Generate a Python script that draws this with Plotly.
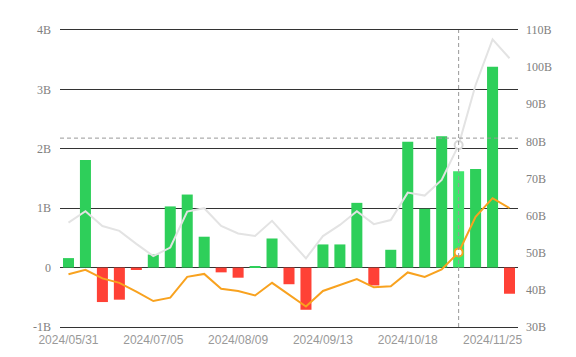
import plotly.graph_objects as go

dates = ["2024/05/31", "2024/06/07", "2024/06/14", "2024/06/21", "2024/06/28",
         "2024/07/05", "2024/07/12", "2024/07/19", "2024/07/26", "2024/08/02",
         "2024/08/09", "2024/08/16", "2024/08/23", "2024/08/30", "2024/09/06",
         "2024/09/13", "2024/09/20", "2024/09/27", "2024/10/04", "2024/10/11",
         "2024/10/18", "2024/10/25", "2024/11/01", "2024/11/08", "2024/11/15",
         "2024/11/25", "2024/11/29"]

net_flow_b = [0.16, 1.81, -0.58, -0.54, -0.04, 0.22, 1.03, 1.23, 0.52, -0.08,
              -0.17, 0.02, 0.49, -0.28, -0.71, 0.39, 0.39, 1.09, -0.30, 0.30,
              2.12, 0.99, 2.21, 1.62, 1.66, 3.38, -0.44]

gray_series_b = [58.1, 61.2, 57.2, 55.9, 52.4, 49.1, 51.4, 61.1, 62.0, 57.2,
                 55.2, 54.5, 58.6, 53.6, 48.5, 54.5, 57.5, 61.2, 57.7, 58.8,
                 66.2, 65.4, 69.6, 79.0, 95.2, 107.5, 102.4]

orange_series_b = [44.2, 45.4, 43.1, 41.9, 39.5, 37.0, 37.9, 43.5, 44.3, 40.3,
                   39.7, 38.5, 41.9, 38.6, 35.5, 39.7, 41.3, 42.9, 40.7, 41.0,
                   44.7, 43.5, 45.5, 50.1, 59.7, 64.7, 62.0]

left_ticks = [-1, 0, 1, 2, 3, 4]
left_ticktext = ["-1B", "0", "1B", "2B", "3B", "4B"]
right_ticks = [30, 40, 50, 60, 70, 80, 90, 100, 110]
right_ticktext = [f"{v}B" for v in right_ticks]
x_tick_idx = [0, 5, 10, 15, 20, 25]

hover_idx = 23
crosshair_y_b = 2.18

GREEN = "#2ecf5a"
GREEN_HI = "#3ee56c"
RED = "#ff4136"
bar_colors = []
for i, v in enumerate(net_flow_b):
    if v >= 0:
        bar_colors.append(GREEN_HI if i == hover_idx else GREEN)
    else:
        bar_colors.append(RED)

SERIF = "Liberation Serif, DejaVu Serif, serif"

fig = go.Figure()
fig.add_trace(go.Bar(x=dates, y=net_flow_b, marker=dict(color=bar_colors, line=dict(width=0)),
                     yaxis="y", showlegend=False))
fig.add_trace(go.Scatter(x=dates, y=gray_series_b, mode="lines", yaxis="y2",
                         line=dict(color="#e3e3e3", width=2), showlegend=False))
fig.add_trace(go.Scatter(x=dates, y=orange_series_b, mode="lines", yaxis="y2",
                         line=dict(color="#f8a21f", width=2), showlegend=False))
fig.add_trace(go.Scatter(x=[dates[hover_idx]], y=[gray_series_b[hover_idx]], mode="markers", yaxis="y2",
                         marker=dict(size=8, color="white", line=dict(color="#d8d8d8", width=2)),
                         showlegend=False))
fig.add_trace(go.Scatter(x=[dates[hover_idx]], y=[orange_series_b[hover_idx]], mode="markers", yaxis="y2",
                         marker=dict(size=8, color="white", line=dict(color="#f8a21f", width=2)),
                         showlegend=False))

fig.add_shape(type="line", xref="x", yref="paper", x0=dates[hover_idx], x1=dates[hover_idx],
              y0=0, y1=1, line=dict(color="#999999", width=1, dash="4px,3px"))
fig.add_shape(type="line", xref="paper", yref="y", x0=0, x1=1, y0=crosshair_y_b, y1=crosshair_y_b,
              line=dict(color="#999999", width=1, dash="4px,3px"))

fig.update_layout(
    width=576, height=357,
    margin=dict(l=52, r=66, t=22, b=38, autoexpand=False),
    paper_bgcolor="white", plot_bgcolor="white",
    bargap=0.35,
    xaxis=dict(type="category", tickvals=[dates[i] for i in x_tick_idx],
               ticktext=[dates[i] for i in x_tick_idx], showgrid=False, zeroline=False,
               showline=True, mirror=True, linecolor="#333333", linewidth=1,
               ticks="", range=[-0.5, len(dates) - 0.5], automargin=False,
               ticklabelstandoff=2,
               tickfont=dict(family="Liberation Sans, Arial, sans-serif", size=12, color="#999999")),
    yaxis=dict(range=[-1, 4], tickvals=left_ticks, ticktext=left_ticktext,
               showgrid=True, gridcolor="#333333", gridwidth=1,
               zeroline=True, zerolinecolor="#333333", zerolinewidth=1,
               showline=False, ticks="", ticklabelstandoff=8, automargin=False,
               tickfont=dict(family=SERIF, size=12, color="#808080")),
    yaxis2=dict(range=[30, 110], tickvals=right_ticks, ticktext=right_ticktext,
                overlaying="y", side="right", showgrid=False, zeroline=False,
                showline=False, ticks="", ticklabelstandoff=7, automargin=False,
                tickfont=dict(family=SERIF, size=12, color="#808080")),
)

fig.write_html("out.html")
